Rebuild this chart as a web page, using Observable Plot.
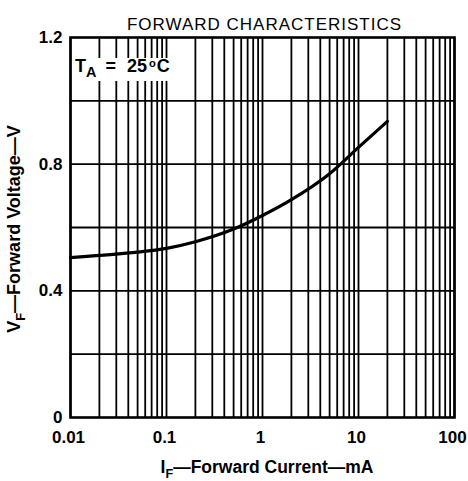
<!DOCTYPE html>
<html><head><meta charset="utf-8">
<script src="https://cdn.jsdelivr.net/npm/d3@7"></script>
<script src="https://cdn.jsdelivr.net/npm/@observablehq/plot@0.6"></script>
<style>
body{margin:0;background:#fff;}
#chart svg{font-family:"Liberation Sans",Arial,Helvetica,sans-serif;background:#fff;}
</style></head><body><div id="chart"></div>
<script>
// Curve: forward current (mA) vs forward voltage (V), TA = 25°C
const currentMA = [0.01, 0.02, 0.05, 0.1, 0.2, 0.5, 1, 2, 5, 10, 20];
const voltageV  = [0.505, 0.512, 0.522, 0.534, 0.555, 0.595, 0.638, 0.688, 0.77, 0.853, 0.935];

const xTicks = [0.01, 0.1, 1, 10, 100];
const xTickLabels = ["0.01", "0.1", "1", "10", "100"];
const yTicks = [0, 0.4, 0.8, 1.2];
const yTickLabels = ["0", "0.4", "0.8", "1.2"];
const yGrid = [0.2, 0.4, 0.6, 0.8, 1.0];

const titleText = "FORWARD CHARACTERISTICS";
const xLabelParts = ["I", "F", "\u2014Forward Current\u2014mA"];
const yLabelParts = ["V", "F", "\u2014Forward Voltage\u2014V"];
const condParts = ["T", "A", "=", "25", "o", "C"];

const data = currentMA.map((c, i) => ({current: c, voltage: voltageV[i]}));
const xGrid = d3.scaleLog().domain([0.01, 100]).ticks();

const plot = Plot.plot({
  width: 468,
  height: 481,
  marginLeft: 70,
  marginRight: 14,
  marginTop: 37,
  marginBottom: 64,
  x: {type: "log", domain: [0.01, 100]},
  y: {domain: [0, 1.2]},
  marks: [
    Plot.ruleX(xGrid, {stroke: "black", strokeWidth: 1.8}),
    Plot.ruleY(yGrid, {stroke: "black", strokeWidth: 1.8}),
    Plot.frame({stroke: "black", strokeWidth: 2.6}),
    Plot.line(data, {x: "current", y: "voltage", stroke: "black", strokeWidth: 3.2, curve: "monotone-x"}),
    Plot.axisX(xTicks, {
      tickSize: 0, tickPadding: 13, fontSize: 17, fontWeight: "bold", fill: "black", dx: -2,
      tickFormat: d => xTickLabels[xTicks.indexOf(d)], label: null
    }),
    Plot.axisY(yTicks, {
      tickSize: 0, tickPadding: 8, fontSize: 17, fontWeight: "bold", fill: "black",
      tickFormat: d => yTickLabels[yTicks.indexOf(d)], label: null
    }),
    Plot.text([titleText], {frameAnchor: "top", text: d => d, dy: -20, dx: 2, fontSize: 17, fill: "black"})
  ]
});
d3.select(plot).selectAll("g[aria-label='text'] text").style("letter-spacing", "1px");

document.getElementById("chart").appendChild(plot);

const svg = d3.select(plot);
const sx = plot.scale("x"), sy = plot.scale("y");

function richText(g, parts, size) {
  const t = g.append("text").attr("font-weight", "bold").attr("font-size", size).attr("fill", "black");
  t.append("tspan").text(parts[0]);
  t.append("tspan").attr("font-size", size * 0.72).attr("dy", size * 0.28).text(parts[1]);
  t.append("tspan").attr("dy", -size * 0.28).text(parts[2]);
  return t;
}

// condition label with white background
const x0 = sx.apply(0.01);
const yTop = sy.apply(1.2);
svg.append("rect").attr("x", x0 + 2).attr("y", yTop + 21).attr("width", 110).attr("height", 23).attr("fill", "white");
{
  const s = 18;
  const t = svg.append("text").attr("font-weight", "bold").attr("font-size", s).attr("fill", "black")
    .attr("text-anchor", "start")
    .attr("transform", `translate(${x0 + 5},${yTop + 35})`);
  t.append("tspan").text(condParts[0]);
  t.append("tspan").attr("font-size", s * 0.8).attr("dy", s * 0.3).text(condParts[1]);
  t.append("tspan").attr("dy", -s * 0.3).attr("dx", 9).text(condParts[2]);
  t.append("tspan").attr("dx", 11).text(condParts[3]);
  t.append("tspan").attr("font-size", s * 0.62).attr("dx", 2).attr("dy", -s * 0.3).text(condParts[4]);
  t.append("tspan").attr("dy", s * 0.3).attr("dx", 1).text(condParts[5]);
}

// x-axis label
const xMid = (sx.apply(0.01) + sx.apply(100)) / 2;
richText(svg.append("g").attr("transform", `translate(${xMid + 5},${sy.apply(0) + 56})`), xLabelParts, 17.5)
  .attr("text-anchor", "middle");

// y-axis label
const yMid = (sy.apply(0) + sy.apply(1.2)) / 2;
richText(svg.append("g").attr("transform", `translate(20,${yMid + 2}) rotate(-90)`), yLabelParts, 18)
  .attr("text-anchor", "middle");
</script></body></html>
